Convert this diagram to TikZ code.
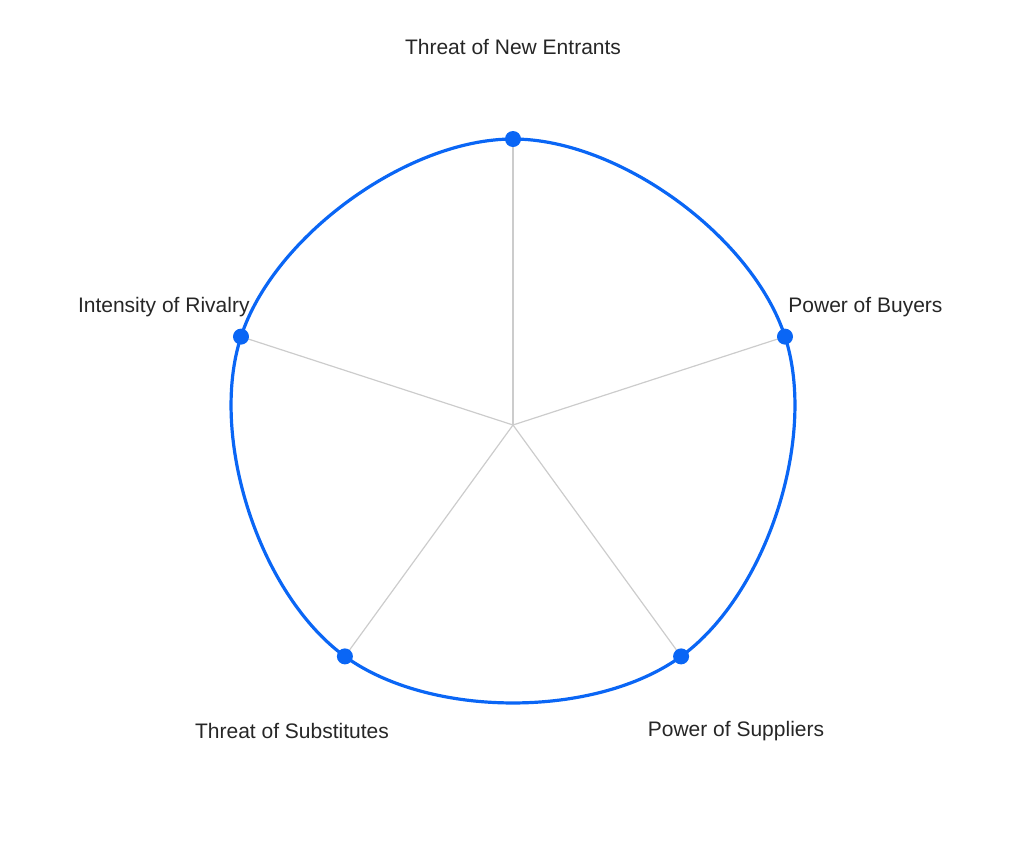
\documentclass[tikz,border=0pt]{standalone}
\usepackage{fontspec}
\setmainfont{Liberation Sans}
\usepackage{tikz}
\usetikzlibrary{positioning,calc}
\definecolor{radarblue}{HTML}{0A66F5}
\definecolor{spokegray}{HTML}{CCCCCC}
\tikzset{
  spoke/.style={draw=spokegray, line width=0.6pt},
  dot/.style={circle, fill=radarblue, inner sep=0pt, minimum size=8pt},
  axislabel/.style={font=\fontsize{10.5pt}{12pt}\selectfont, text=black!85, inner sep=1pt}
}
\begin{document}
\begin{tikzpicture}[x=0.5pt, y=-0.5pt]
  \useasboundingbox (0,0) rectangle (1028,852);

  \newcommand\R{286};
  \coordinate (c) at (513,425);

  % axis points (y axis points down, so angles are negated)
  \foreach \n/\a in {ne/90, pb/18, ps/-54, ts/-126, ir/162}
    \coordinate (\n) at ($(c)+(-\a:\R)$);

  \foreach \n in {ne, pb, ps, ts, ir}
    \draw[spoke] (c) -- (\n);

  % outline
  \draw[radarblue, line width=1.6pt] plot[smooth cycle, tension=0.7]
    coordinates {(ne) (pb) (ps) (ts) (ir)};

  \foreach \n in {ne, pb, ps, ts, ir}
    \node[dot] (d\n) at (\n) {};

  % labels
  \node[axislabel] (lne) at (513,47) {Threat of New Entrants};
  \node[axislabel, anchor=west] (lpb) at (786,307) {Power of Buyers};
  \node[axislabel, anchor=east] (lir) at (252,307) {Intensity of Rivalry};
  \node[axislabel] (lps) at (736,731) {Power of Suppliers};
  \node[axislabel] (lts) at (292,731) {Threat of Substitutes};
\end{tikzpicture}
\end{document}
